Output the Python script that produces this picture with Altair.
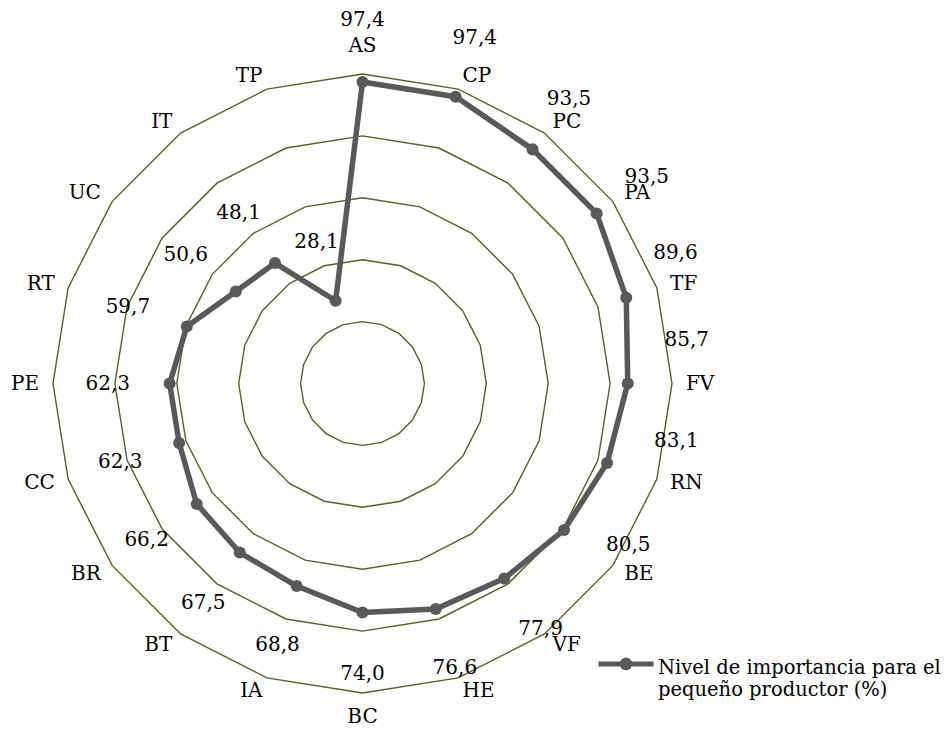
import math
import altair as alt
import pandas as pd

# ---------------- data ----------------
categories = ["AS", "CP", "PC", "PA", "TF", "FV", "RN", "BE", "VF", "HE",
              "BC", "IA", "BT", "BR", "CC", "PE", "RT", "UC", "IT", "TP"]
values = [97.4, 97.4, 93.5, 93.5, 89.6, 85.7, 83.1, 80.5, 77.9, 76.6,
          74.0, 68.8, 67.5, 66.2, 62.3, 62.3, 59.7, 50.6, 48.1, 28.1]
grid_levels = [20, 40, 60, 80, 100]
series_name = "Nivel de importancia para el pequeño productor (%)"

N = len(categories)

# ---------------- tables ----------------
series_rows = [{"i": i, "cat": c, "value": v, "series": series_name}
               for i, (c, v) in enumerate(zip(categories, values))]
series_rows.append({"i": N, "cat": categories[0], "value": values[0], "series": series_name})
series_df = pd.DataFrame(series_rows)
points_df = pd.DataFrame({"i": list(range(N)), "cat": categories, "value": values})

grid_df = pd.DataFrame([{"level": lv, "i": i} for lv in grid_levels for i in range(N + 1)])
cat_df = pd.DataFrame({"i": list(range(N)), "cat": categories})

# ---------------- geometry / scales ----------------
W, H = 934, 722
K = 3.095                 # px per unit
CX, CY = 354.5, 375.5     # center inside plot area
xdom = [-CX / K, (W - CX) / K]
ydom = [-(H - CY) / K, CY / K]
LABEL_R = 104.5
LABEL_R_TOP = 105.8
FONT = "DejaVu Serif"
FS = 20
GRID_COLOR = "#4F6228"
LINE_COLOR = "#595959"

X = alt.X("x:Q", scale=alt.Scale(domain=xdom, nice=False, zero=False), axis=None)
Y = alt.Y("y:Q", scale=alt.Scale(domain=ydom, nice=False, zero=False), axis=None)

ang = f"datum.i * 2 * PI / {N}"

grid = alt.Chart(grid_df).transform_calculate(
    x=f"datum.level * sin({ang})", y=f"datum.level * cos({ang})"
).mark_line(color=GRID_COLOR, strokeWidth=1.4).encode(
    x=X, y=Y, detail="level:N", order="i:Q"
)

legend_path = ("M-1,0.18L1,0.18"
               "M0.14,0.18A0.14,0.14,0,1,1,-0.14,0.18A0.14,0.14,0,1,1,0.14,0.18Z")

line = alt.Chart(series_df).transform_calculate(
    x=f"datum.value * sin({ang})", y=f"datum.value * cos({ang})"
).mark_line(strokeWidth=5.5, strokeJoin="round").encode(
    x=X, y=Y, order="i:Q",
    color=alt.Color("series:N", scale=alt.Scale(range=[LINE_COLOR]),
                    legend=alt.Legend(
                        title=None, orient="none", legendX=588, legendY=621,
                        symbolType=legend_path, symbolSize=3025,
                        symbolStrokeWidth=5, symbolFillColor=LINE_COLOR,
                        symbolStrokeColor=LINE_COLOR,
                        labelFont=FONT, labelFontSize=19.5, labelColor="black",
                        labelBaseline="top", labelLimit=0, labelOffset=2,
                        labelExpr="[substring(datum.label, 0, 28), substring(datum.label, 29)]",
                    )),
)

points = alt.Chart(points_df).transform_calculate(
    x=f"datum.value * sin({ang})", y=f"datum.value * cos({ang})"
).mark_point(filled=True, size=145, opacity=1, color=LINE_COLOR).encode(x=X, y=Y)


def cat_layer(filter_expr, align, baseline, radius):
    return alt.Chart(cat_df).transform_filter(filter_expr).transform_calculate(
        x=f"{radius} * sin({ang})", y=f"{radius} * cos({ang})"
    ).mark_text(font=FONT, fontSize=FS, color="black", align=align, baseline=baseline).encode(
        x=X, y=Y, text="cat:N"
    )


half = N / 2
cat_right = cat_layer(f"datum.i > 0 && datum.i < {half}", "left", "middle", LABEL_R)
cat_left = cat_layer(f"datum.i > {half}", "right", "middle", LABEL_R)
cat_top = cat_layer("datum.i == 0", "center", "bottom", LABEL_R_TOP)
cat_bottom = cat_layer(f"datum.i == {half}", "center", "top", LABEL_R)

# value labels: 20 units beyond the point; on the right flank they are turned
# slightly counter-clockwise so they clear the category labels
val_labels = alt.Chart(points_df).transform_calculate(
    a=ang,
).transform_calculate(
    shift="sin(datum.a) > 0 ? -8 * PI / 180 * max(0, cos(2 * (datum.a - 99 * PI / 180))) : 0",
).transform_calculate(
    r="datum.value + 20",
    txt="replace(format(datum.value, '.1f'), '.', ',')",
).transform_calculate(
    x="datum.r * sin(datum.a + datum.shift)", y="datum.r * cos(datum.a + datum.shift)"
).mark_text(font=FONT, fontSize=FS, color="black", align="center", baseline="middle").encode(
    x=X, y=Y, text="txt:N"
)

chart = alt.layer(grid, line, points, cat_right, cat_left, cat_top, cat_bottom, val_labels).properties(
    width=W, height=H, autosize=alt.AutoSizeParams(type="none"), padding=0,
    background="white",
).configure_view(stroke=None)

chart.save("out.html", embed_options={"renderer": "svg", "actions": False})
